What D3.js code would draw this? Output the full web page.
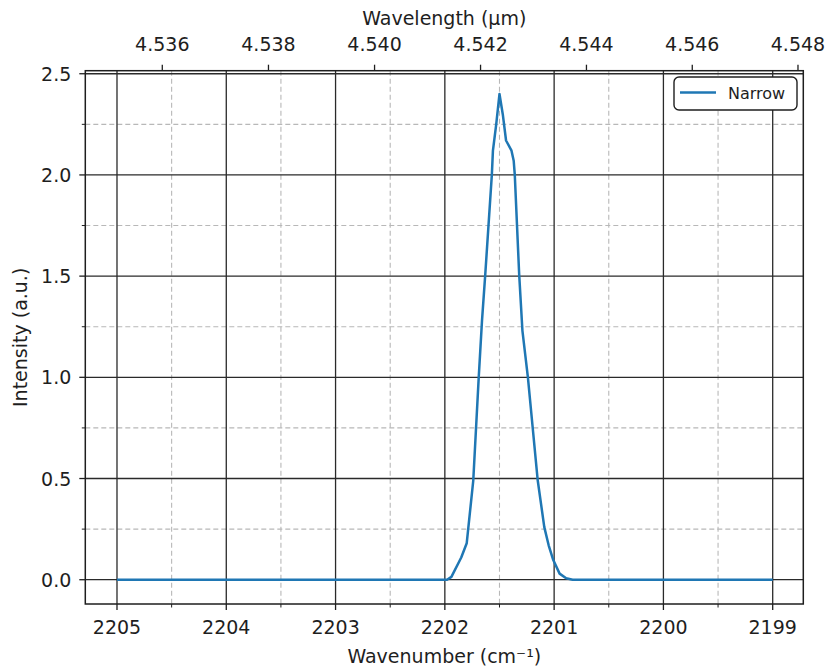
<!DOCTYPE html>
<html>
<head>
<meta charset="utf-8">
<script src="https://cdn.jsdelivr.net/npm/d3@7/dist/d3.min.js"></script>
<style>
  body { margin: 0; background: #fff; }
  text { font-family: "DejaVu Sans", sans-serif; fill: #1e1e1e; }
</style>
</head>
<body>
<svg id="chart" width="827" height="671"></svg>
<script>
// spectrum (x = wavenumber cm^-1, y = intensity a.u.)
const wavenumber = [2205.0, 2201.98, 2201.94, 2201.85, 2201.80, 2201.74, 2201.69, 2201.66,
  2201.63, 2201.57, 2201.56, 2201.53, 2201.50, 2201.47, 2201.44, 2201.39, 2201.37, 2201.36,
  2201.32, 2201.29, 2201.24, 2201.15, 2201.09, 2201.05, 2201.01, 2200.95, 2200.89, 2200.83, 2199.0];
const intensity = [0, 0, 0.014, 0.11, 0.18, 0.49, 1.0, 1.28,
  1.51, 2.0, 2.12, 2.25, 2.40, 2.30, 2.17, 2.12, 2.07, 2.0,
  1.51, 1.23, 1.0, 0.49, 0.26, 0.17, 0.10, 0.03, 0.007, 0, 0];

const xTicks = [2205, 2204, 2203, 2202, 2201, 2200, 2199];
const xMinorTicks = [2204.5, 2203.5, 2202.5, 2201.5, 2200.5, 2199.5];
const yTicks = [0, 0.5, 1.0, 1.5, 2.0, 2.5];
const yMinorTicks = [0.25, 0.75, 1.25, 1.75, 2.25];
const wavelengthTicks = [4.536, 4.538, 4.540, 4.542, 4.544, 4.546, 4.548];
const seriesName = "Narrow";

const svg = d3.select("#chart");
const margins = { left: 85.3, right: 827 - 803.3, top: 70.7, bottom: 671 - 604 };
const w = 827 - margins.left - margins.right;
const h = 671 - margins.top - margins.bottom;

// wavenumber axis is reversed
const xScale = d3.scaleLinear().domain([2205.29, 2198.72]).range([0, w]);
const yScale = d3.scaleLinear().domain([-0.12, 2.515]).range([h, 0]);

const g = svg.append("g")
  .attr("transform", "translate(" + margins.left + "," + margins.top + ")");

// minor grid (dashed)
g.append("g").selectAll("line").data(xMinorTicks).join("line")
  .attr("x1", d => xScale(d)).attr("x2", d => xScale(d))
  .attr("y1", 0).attr("y2", h)
  .attr("stroke", "#b8b8b8").attr("stroke-width", 1.1).attr("stroke-dasharray", "5,3");
g.append("g").selectAll("line").data(yMinorTicks).join("line")
  .attr("x1", 0).attr("x2", w)
  .attr("y1", d => yScale(d)).attr("y2", d => yScale(d))
  .attr("stroke", "#b8b8b8").attr("stroke-width", 1.1).attr("stroke-dasharray", "5,3");

// major grid
g.append("g").selectAll("line").data(xTicks).join("line")
  .attr("x1", d => xScale(d)).attr("x2", d => xScale(d))
  .attr("y1", 0).attr("y2", h)
  .attr("stroke", "#2a2a2a").attr("stroke-width", 1.3);
g.append("g").selectAll("line").data(yTicks).join("line")
  .attr("x1", 0).attr("x2", w)
  .attr("y1", d => yScale(d)).attr("y2", d => yScale(d))
  .attr("stroke", "#2a2a2a").attr("stroke-width", 1.3);

// the spectrum
const line = d3.line()
  .x((d, i) => xScale(wavenumber[i]))
  .y(d => yScale(d));
g.append("path")
  .datum(intensity)
  .attr("d", line)
  .attr("fill", "none")
  .attr("stroke", "#1f77b4")
  .attr("stroke-width", 2.5)
  .attr("stroke-linejoin", "round");

// frame
g.append("rect")
  .attr("width", w).attr("height", h)
  .attr("fill", "none").attr("stroke", "#1e1e1e").attr("stroke-width", 1.5);

// bottom axis
const xAxis = g.append("g").attr("transform", "translate(0," + h + ")");
xAxis.selectAll(".major").data(xTicks).join("line")
  .attr("x1", d => xScale(d)).attr("x2", d => xScale(d))
  .attr("y1", 0).attr("y2", 6).attr("stroke", "#1e1e1e").attr("stroke-width", 1.3);
xAxis.selectAll(".minor").data(xMinorTicks).join("line")
  .attr("x1", d => xScale(d)).attr("x2", d => xScale(d))
  .attr("y1", 0).attr("y2", 3.5).attr("stroke", "#1e1e1e").attr("stroke-width", 1);
xAxis.selectAll("text").data(xTicks).join("text")
  .attr("x", d => xScale(d)).attr("y", 30)
  .attr("text-anchor", "middle").attr("font-size", 19)
  .text(d => d);

// left axis
const yAxis = g.append("g");
yAxis.selectAll(".major").data(yTicks).join("line")
  .attr("x1", -6).attr("x2", 0)
  .attr("y1", d => yScale(d)).attr("y2", d => yScale(d))
  .attr("stroke", "#1e1e1e").attr("stroke-width", 1.3);
yAxis.selectAll(".minor").data(yMinorTicks).join("line")
  .attr("x1", -3.5).attr("x2", 0)
  .attr("y1", d => yScale(d)).attr("y2", d => yScale(d))
  .attr("stroke", "#1e1e1e").attr("stroke-width", 1);
yAxis.selectAll("text").data(yTicks).join("text")
  .attr("x", -14).attr("y", d => yScale(d) + 7)
  .attr("text-anchor", "end").attr("font-size", 19)
  .text(d => d3.format(".1f")(d));

// top axis: wavelength in um = 1e4 / wavenumber
const topAxis = g.append("g");
topAxis.selectAll("line").data(wavelengthTicks).join("line")
  .attr("x1", d => xScale(1e4 / d)).attr("x2", d => xScale(1e4 / d))
  .attr("y1", -6).attr("y2", 0).attr("stroke", "#1e1e1e").attr("stroke-width", 1.3);
topAxis.selectAll("text").data(wavelengthTicks).join("text")
  .attr("x", d => xScale(1e4 / d)).attr("y", -20)
  .attr("text-anchor", "middle").attr("font-size", 19)
  .text(d => d3.format(".3f")(d));

// axis labels
svg.append("text")
  .attr("x", margins.left + w / 2).attr("y", 663)
  .attr("text-anchor", "middle").attr("font-size", 19)
  .text("Wavenumber (cm\u207B\u00B9)");
svg.append("text")
  .attr("x", margins.left + w / 2).attr("y", 25)
  .attr("text-anchor", "middle").attr("font-size", 19)
  .text("Wavelength (\u00B5m)");
svg.append("text")
  .attr("transform", "translate(27," + (margins.top + h / 2) + ") rotate(-90)")
  .attr("text-anchor", "middle").attr("font-size", 19)
  .text("Intensity (a.u.)");

// legend
const legend = svg.append("g").attr("transform", "translate(674,77)");
legend.append("rect")
  .attr("width", 123).attr("height", 33).attr("rx", 5)
  .attr("fill", "#fff").attr("stroke", "#1e1e1e").attr("stroke-width", 1.4);
legend.append("line")
  .attr("x1", 6).attr("x2", 42).attr("y1", 15.5).attr("y2", 15.5)
  .attr("stroke", "#1f77b4").attr("stroke-width", 2.5);
legend.append("text")
  .attr("x", 54).attr("y", 21.5).attr("font-size", 16)
  .text(seriesName);
</script>
</body>
</html>
